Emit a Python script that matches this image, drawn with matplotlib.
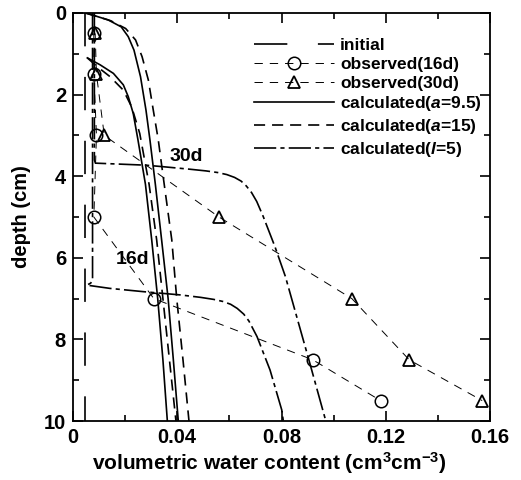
import matplotlib
matplotlib.use('Agg')
import matplotlib.pyplot as plt
from matplotlib.ticker import MultipleLocator

plt.rcParams['font.family'] = ['Liberation Sans', 'DejaVu Sans']
plt.rcParams['font.weight'] = 'bold'
plt.rcParams['mathtext.fontset'] = 'custom'
plt.rcParams['mathtext.rm'] = 'Liberation Sans:bold'
plt.rcParams['mathtext.it'] = 'Liberation Sans:italic:bold'
plt.rcParams['mathtext.bf'] = 'Liberation Sans:bold'
plt.rcParams['lines.scale_dashes'] = False

# initial profile
init_x = [0.0045, 0.0045]
init_d = [0, 10]

# observed
obs_d = [0.5, 1.5, 3, 5, 7, 8.5, 9.5]
obs16_x = [0.008, 0.008, 0.009, 0.008, 0.031, 0.092, 0.118]
obs30_x = [0.0085, 0.009, 0.012, 0.056, 0.107, 0.129, 0.157]

# calculated a=9.5 (solid)
a95_16_d = [1.1, 1.27, 1.48, 1.76, 2.05, 2.46, 3.1, 4.2, 5.56, 7.0, 8.5, 10]
a95_16_x = [0.0055, 0.0104, 0.0155, 0.0193, 0.0212, 0.0231, 0.0249, 0.0278, 0.0302, 0.0325, 0.0345, 0.0362]
a95_30_d = [0, 0.08, 0.17, 0.34, 0.58, 0.91, 1.56, 2.38, 3.1, 4.2, 5.56, 7.0, 8.5, 10]
a95_30_x = [0.0048, 0.009, 0.0135, 0.0185, 0.0212, 0.0234, 0.0259, 0.0280, 0.0295, 0.0316, 0.034, 0.0365, 0.0385, 0.0404]

# calculated a=15 (dashed)
a15_16_d = [1.1, 1.3, 1.56, 1.89, 2.3, 2.95, 4.2, 5.56, 7.0, 8.5, 10]
a15_16_x = [0.0055, 0.009, 0.0142, 0.0193, 0.0225, 0.0256, 0.0292, 0.0321, 0.0345, 0.037, 0.0395]
a15_30_d = [0, 0.09, 0.19, 0.38, 0.66, 1.07, 1.64, 2.38, 3.1, 4.2, 5.56, 7.0, 8.5, 10]
a15_30_x = [0.0048, 0.0095, 0.0145, 0.0202, 0.0240, 0.0265, 0.0289, 0.0308, 0.0327, 0.035, 0.0379, 0.0398, 0.0422, 0.0445]

# calculated l=5 (dash-dot)
l5_16_d = [0, 6.55, 6.62, 6.67, 6.75, 6.83, 6.91, 6.97, 7.02, 7.07, 7.14, 7.24, 7.38, 7.55, 7.93, 8.75, 9.73, 10]
l5_16_x = [0.0075, 0.0075, 0.0068, 0.0053, 0.0142, 0.027, 0.0412, 0.049, 0.054, 0.0575, 0.0605, 0.0630, 0.0655, 0.0675, 0.0706, 0.0756, 0.0801, 0.0807]
l5_30_d = [0, 3.6, 3.68, 3.73, 3.77, 3.83, 3.87, 3.91, 3.96, 4.03, 4.12, 4.24, 4.40, 4.62, 4.99, 5.73, 6.46, 8.5, 10]
l5_30_x = [0.0082, 0.0082, 0.0086, 0.028, 0.035, 0.045, 0.051, 0.0555, 0.0590, 0.0620, 0.0645, 0.0665, 0.0685, 0.0705, 0.073, 0.0775, 0.0815, 0.0905, 0.097]

fig = plt.figure(figsize=(5.21, 4.80), dpi=100)
ax = fig.add_axes([73 / 521, 1 - 421 / 480, 417 / 521, 408 / 480])

ax.plot(init_x, init_d, color='black', lw=1.2, dashes=(24, 22), label='initial')
ax.plot(obs16_x, obs_d, color='black', lw=0.7, dashes=(6, 5), marker='o', ms=9,
        mfc='none', mec='black', mew=1.1, label='observed(16d)')
ax.plot(obs30_x, obs_d, color='black', lw=0.7, dashes=(6, 5), marker='^', ms=9,
        mfc='none', mec='black', mew=1.3, label='observed(30d)')
ax.plot(a95_16_x, a95_16_d, color='black', lw=1.2, label='calculated($a$=9.5)')
ax.plot(a95_30_x, a95_30_d, color='black', lw=1.2)
ax.plot(a15_16_x, a15_16_d, color='black', lw=1.2, dashes=(8, 5), label='calculated($a$=15)')
ax.plot(a15_30_x, a15_30_d, color='black', lw=1.2, dashes=(8, 5))
ax.plot(l5_16_x, l5_16_d, color='black', lw=1.2, dashes=(16, 3, 3, 3), label='calculated($l$=5)')
ax.plot(l5_30_x, l5_30_d, color='black', lw=1.2, dashes=(16, 3, 3, 3))

ax.text(0.0436, 3.52, '30d', fontsize=14, fontweight='bold', ha='center', va='center')
ax.text(0.0228, 6.03, '16d', fontsize=14, fontweight='bold', ha='center', va='center')

ax.set_xlim(0, 0.16)
ax.set_ylim(10, 0)
ax.xaxis.set_major_locator(MultipleLocator(0.04))
ax.xaxis.set_minor_locator(MultipleLocator(0.02))
ax.yaxis.set_major_locator(MultipleLocator(2))
ax.yaxis.set_minor_locator(MultipleLocator(1))
ax.xaxis.set_major_formatter(plt.FuncFormatter(lambda v, p: '0' if v == 0 else '%g' % v))
ax.tick_params(which='both', direction='in', top=True, right=True, width=1.2)
ax.tick_params(which='major', length=7, labelsize=14.5, pad=5)
ax.tick_params(which='minor', length=4)
for s in ax.spines.values():
    s.set_linewidth(1.3)

ax.set_xlabel('volumetric water content (cm$^{3}$cm$^{-3}$)', fontsize=15, fontweight='bold')
ax.xaxis.set_label_coords(0.47, -0.072)
ax.set_ylabel('depth (cm)', fontsize=14.5, fontweight='bold', labelpad=9)

ax.legend(loc='upper right', bbox_to_anchor=(0.98, 0.94), frameon=False, fontsize=12.5,
          handlelength=4.6, handletextpad=0.35, labelspacing=0.22, borderpad=0, borderaxespad=0)

fig.savefig('out.png', dpi=100)
